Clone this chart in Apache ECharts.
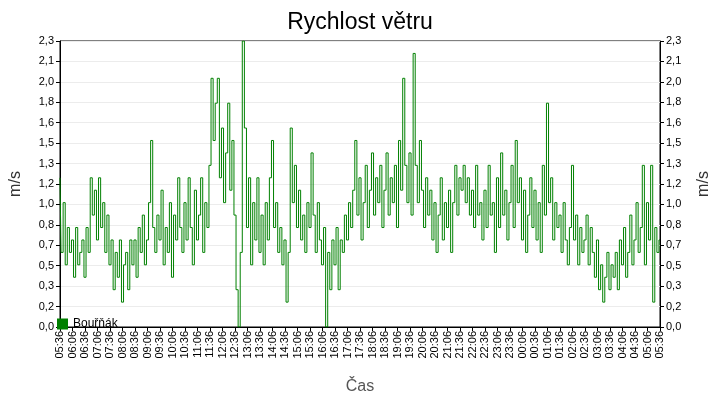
<!DOCTYPE html>
<html>
<head>
<meta charset="utf-8">
<script src="https://cdn.jsdelivr.net/npm/echarts@6/dist/echarts.min.js"></script>
<style>html,body{margin:0;padding:0;background:#fff}#chart{width:720px;height:400px}</style>
</head>
<body>
<div id="chart"></div>
<script>
// rychlost větru, krok 5 min od 05:36
var seriesName = 'Bouřňák';
var startMinute = 5 * 60 + 36;
var windSpeed = [
  1.2,0.6,1.0,0.5,0.8,0.6,0.7,0.4,0.8,0.5,0.6,0.7,
  0.4,0.8,0.6,1.2,0.9,1.1,0.7,1.2,0.8,1.0,0.6,0.9,
  0.5,0.7,0.3,0.6,0.4,0.7,0.2,0.5,0.6,0.3,0.7,0.5,
  0.7,0.4,0.8,0.6,0.9,0.5,0.7,1.0,1.5,0.8,0.6,0.9,
  0.7,1.1,0.5,0.8,0.6,1.0,0.4,0.9,0.7,1.2,0.8,0.6,
  1.0,0.7,1.2,0.8,0.5,1.1,0.7,0.9,1.2,0.6,1.0,0.8,
  1.3,2.0,1.5,1.8,2.0,1.2,1.6,1.0,1.4,1.8,1.1,1.5,
  0.9,0.3,0.0,0.6,2.3,1.6,0.8,1.2,0.5,1.0,0.7,1.2,
  0.6,0.9,0.5,1.0,0.7,1.2,1.5,0.8,1.0,0.6,0.8,0.5,
  0.7,0.2,0.6,1.6,1.0,1.3,0.8,1.1,0.7,0.9,0.6,1.0,
  0.8,1.4,0.9,0.6,1.0,0.7,0.5,0.8,0.0,0.6,0.3,0.7,
  0.5,0.8,0.3,0.7,0.6,0.9,0.7,1.0,0.8,1.1,1.5,0.9,
  1.2,0.7,1.0,1.3,0.8,1.1,1.4,0.9,1.2,1.0,1.3,0.8,
  1.1,1.4,0.9,1.2,1.0,1.3,0.8,1.5,1.1,2.0,1.3,1.0,
  1.4,0.9,2.2,1.3,1.0,1.5,1.1,0.8,1.2,0.9,1.1,0.7,
  1.0,0.6,0.9,1.2,0.7,1.0,0.8,1.1,0.6,1.0,1.3,0.9,
  1.2,1.1,1.3,1.0,1.2,0.9,1.1,0.8,1.3,0.9,1.0,0.7,
  1.1,0.8,1.3,0.9,1.0,0.6,1.2,0.8,1.4,0.9,1.1,0.7,
  1.0,1.3,0.8,1.5,1.0,1.2,0.7,1.1,0.6,0.9,1.2,0.8,
  1.1,0.7,1.0,0.6,1.3,0.9,1.8,1.0,1.2,0.7,1.0,0.8,
  0.9,0.6,1.0,0.7,0.5,0.8,1.3,0.7,0.9,0.5,0.8,0.6,
  0.7,0.9,0.5,0.8,0.6,0.4,0.7,0.3,0.5,0.2,0.4,0.6,
  0.3,0.5,0.4,0.6,0.3,0.7,0.5,0.8,0.4,0.6,0.9,0.5,
  0.7,1.0,0.6,0.8,1.3,0.5,1.0,0.7,1.3,0.2,0.8,0.6,
  0.7
];
var times = windSpeed.map(function (v, i) {
  var m = (startMinute + i * 5) % 1440;
  var h = Math.floor(m / 60), mm = m % 60;
  return (h < 10 ? '0' : '') + h + ':' + (mm < 10 ? '0' : '') + mm;
});

var chart = echarts.init(document.getElementById('chart'));
var yFmt = function (v) { return (Math.round(v * 10 + 1e-6) / 10).toFixed(1).replace('.', ','); };
var yAxisBase = {
  type: 'value', min: 0, max: 2.3, interval: 2.3 / 14,
  nameLocation: 'middle', nameGap: 36,
  nameTextStyle: { fontSize: 16, color: '#333', fontFamily: 'Liberation Sans' },
  axisLine: { show: true, lineStyle: { color: '#000' } },
  axisTick: { show: true, length: 4, lineStyle: { color: '#000' } },
  axisLabel: { formatter: yFmt, fontSize: 11, color: '#000', fontFamily: 'Liberation Sans', margin: 6 },
  splitLine: { lineStyle: { color: '#ececec' } }
};
var option = {
  animation: false,
  title: {
    text: 'Rychlost větru', left: 'center', top: 6,
    textStyle: { fontSize: 23, fontWeight: 'normal', color: '#000', fontFamily: 'Liberation Sans' }
  },
  grid: { left: 57, right: 53, top: 41, bottom: 70, show: true, borderColor: '#000', borderWidth: 1 },
  legend: {
    left: 52, top: 313, itemWidth: 11, itemHeight: 11, icon: 'rect',
    textStyle: { fontSize: 12, color: '#000', fontFamily: 'Liberation Sans' },
    data: [seriesName]
  },
  xAxis: {
    type: 'category', data: times, boundaryGap: false,
    name: 'Čas', nameLocation: 'middle', nameGap: 52,
    nameTextStyle: { fontSize: 16, color: '#555', fontFamily: 'Liberation Sans' },
    axisLine: { lineStyle: { color: '#000' } },
    axisTick: { interval: 5, length: 4, lineStyle: { color: '#000' } },
    axisLabel: { interval: 5, rotate: 90, fontSize: 11, color: '#000', fontFamily: 'Liberation Sans', margin: 4 }
  },
  yAxis: [
    Object.assign({}, yAxisBase, { name: 'm/s', position: 'left' }),
    Object.assign({}, yAxisBase, { name: 'm/s', position: 'right', splitLine: { show: false } })
  ],
  series: [{
    name: seriesName, type: 'line', step: 'middle', data: windSpeed,
    yAxisIndex: 0, showSymbol: false, color: '#008000',
    lineStyle: { width: 1, color: '#008000' }
  }]
};
chart.setOption(option);
window.onresize = function () { chart.resize(); };
</script>
</body>
</html>
